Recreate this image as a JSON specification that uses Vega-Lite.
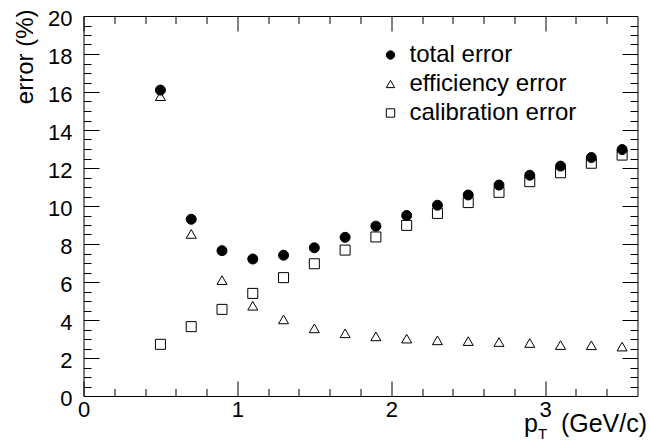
{
  "$schema": "https://vega.github.io/schema/vega-lite/v6.json",
  "width": 554,
  "height": 380,
  "autosize": "none",
  "padding": {"left": 83.5, "top": 16, "right": 12.5, "bottom": 48},
  "background": "white",
  "config": {
    "font": "Liberation Sans",
    "view": {"stroke": "black", "strokeWidth": 1},
    "axis": {"grid": false, "domain": false, "tickColor": "black", "tickWidth": 1, "labelColor": "black", "titleColor": "black", "labelOverlap": false, "labelFlush": false, "labelBound": false, "titleFontWeight": "normal"}
  },
  "data": {
    "values": [
      {"pt": 0.5, "series": "total error", "err": 16.1},
      {"pt": 0.7, "series": "total error", "err": 9.3},
      {"pt": 0.9, "series": "total error", "err": 7.65},
      {"pt": 1.1, "series": "total error", "err": 7.21},
      {"pt": 1.3, "series": "total error", "err": 7.41},
      {"pt": 1.5, "series": "total error", "err": 7.8},
      {"pt": 1.7, "series": "total error", "err": 8.35},
      {"pt": 1.9, "series": "total error", "err": 8.94},
      {"pt": 2.1, "series": "total error", "err": 9.5},
      {"pt": 2.3, "series": "total error", "err": 10.04},
      {"pt": 2.5, "series": "total error", "err": 10.58},
      {"pt": 2.7, "series": "total error", "err": 11.1},
      {"pt": 2.9, "series": "total error", "err": 11.62},
      {"pt": 3.1, "series": "total error", "err": 12.1},
      {"pt": 3.3, "series": "total error", "err": 12.55},
      {"pt": 3.5, "series": "total error", "err": 12.97},
      {"pt": 0.5, "series": "efficiency error", "err": 15.78},
      {"pt": 0.7, "series": "efficiency error", "err": 8.53},
      {"pt": 0.9, "series": "efficiency error", "err": 6.1},
      {"pt": 1.1, "series": "efficiency error", "err": 4.75},
      {"pt": 1.3, "series": "efficiency error", "err": 4.03},
      {"pt": 1.5, "series": "efficiency error", "err": 3.56},
      {"pt": 1.7, "series": "efficiency error", "err": 3.3},
      {"pt": 1.9, "series": "efficiency error", "err": 3.14},
      {"pt": 2.1, "series": "efficiency error", "err": 3.02},
      {"pt": 2.3, "series": "efficiency error", "err": 2.93},
      {"pt": 2.5, "series": "efficiency error", "err": 2.89},
      {"pt": 2.7, "series": "efficiency error", "err": 2.84},
      {"pt": 2.9, "series": "efficiency error", "err": 2.79},
      {"pt": 3.1, "series": "efficiency error", "err": 2.68},
      {"pt": 3.3, "series": "efficiency error", "err": 2.67},
      {"pt": 3.5, "series": "efficiency error", "err": 2.6},
      {"pt": 0.5, "series": "calibration error", "err": 2.72},
      {"pt": 0.7, "series": "calibration error", "err": 3.65},
      {"pt": 0.9, "series": "calibration error", "err": 4.56},
      {"pt": 1.1, "series": "calibration error", "err": 5.4},
      {"pt": 1.3, "series": "calibration error", "err": 6.23},
      {"pt": 1.5, "series": "calibration error", "err": 6.96},
      {"pt": 1.7, "series": "calibration error", "err": 7.68},
      {"pt": 1.9, "series": "calibration error", "err": 8.37},
      {"pt": 2.1, "series": "calibration error", "err": 8.98},
      {"pt": 2.3, "series": "calibration error", "err": 9.61},
      {"pt": 2.5, "series": "calibration error", "err": 10.18},
      {"pt": 2.7, "series": "calibration error", "err": 10.72},
      {"pt": 2.9, "series": "calibration error", "err": 11.28},
      {"pt": 3.1, "series": "calibration error", "err": 11.75},
      {"pt": 3.3, "series": "calibration error", "err": 12.25},
      {"pt": 3.5, "series": "calibration error", "err": 12.68}
    ]
  },
  "layer": [
    {
      "mark": {"type": "point", "filled": true, "strokeWidth": 1, "opacity": 1, "size": 100},
      "encoding": {
        "x": {"field": "pt", "type": "quantitative", "scale": {"domain": [0, 3.6], "nice": false, "zero": false},
          "axis": {"orient": "bottom", "title": "(GeV/c)", "titleFontSize": 25, "titleX": 563, "titleY": 35.5, "titleAlign": "right", "titleBaseline": "alphabetic", "titleAnchor": "end",
            "labelFontSize": 22, "labelPadding": 18, "format": "d",
            "values": [0, 1, 2, 3], "tickSize": -15}},
        "y": {"field": "err", "type": "quantitative", "scale": {"domain": [0, 20], "nice": false, "zero": false},
          "axis": {"orient": "left", "title": "error (%)", "titleFontSize": 24, "titleX": -51.5, "titleY": -7, "titleAngle": -90, "titleAlign": "right", "titleBaseline": "alphabetic", "titleAnchor": "end",
            "labelFontSize": 22, "labelPadding": 27, "labelOffset": 2.5, "format": "d",
            "values": [0, 2, 4, 6, 8, 10, 12, 14, 16, 18, 20], "tickSize": -15.5}},
        "shape": {"field": "series", "type": "nominal",
          "scale": {"domain": ["total error", "efficiency error", "calibration error"], "range": ["circle", "triangle-up", "square"]},
          "legend": {"orient": "none", "legendX": 295, "legendY": 27, "title": null, "labelFontSize": 24, "labelColor": "black", "labelLimit": 400, "symbolSize": 70, "symbolStrokeWidth": 1, "labelOffset": 7, "rowPadding": 5, "padding": 0}},
        "fill": {"field": "series", "type": "nominal",
          "scale": {"domain": ["total error", "efficiency error", "calibration error"], "range": ["black", "transparent", "transparent"]},
          "legend": {"orient": "none", "legendX": 295, "legendY": 27, "title": null, "labelFontSize": 24, "labelColor": "black", "labelLimit": 400, "symbolSize": 70, "symbolStrokeWidth": 1, "labelOffset": 7, "rowPadding": 5, "padding": 0}},
        "stroke": {"field": "series", "type": "nominal",
          "scale": {"domain": ["total error", "efficiency error", "calibration error"], "range": ["black", "black", "black"]},
          "legend": {"orient": "none", "legendX": 295, "legendY": 27, "title": null, "labelFontSize": 24, "labelColor": "black", "labelLimit": 400, "symbolSize": 70, "symbolStrokeWidth": 1, "labelOffset": 7, "rowPadding": 5, "padding": 0}}
      }
    },
    {
      "mark": {"type": "point", "opacity": 0},
      "encoding": {
        "x": {"field": "pt", "type": "quantitative",
          "axis": {"orient": "top", "title": null, "labels": false, "values": [0, 1, 2, 3], "tickSize": -15}},
        "y": {"field": "err", "type": "quantitative",
          "axis": {"orient": "right", "title": null, "labels": false, "values": [0, 2, 4, 6, 8, 10, 12, 14, 16, 18, 20], "tickSize": -15.5}}
      }
    },
    {
      "mark": {"type": "point", "opacity": 0},
      "encoding": {
        "x": {"field": "pt", "type": "quantitative",
          "axis": {"orient": "bottom", "title": "p", "titleFontSize": 25, "titleX": 440, "titleY": 35.5, "titleAlign": "left", "titleBaseline": "alphabetic", "titleAnchor": "start", "labels": false,
            "values": [0.2, 0.4, 0.6, 0.8, 1.2, 1.4, 1.6, 1.8, 2.2, 2.4, 2.6, 2.8, 3.2, 3.4], "tickSize": -7.5}},
        "y": {"field": "err", "type": "quantitative",
          "axis": {"orient": "left", "title": null, "labels": false,
            "values": [0.5, 1, 1.5, 2.5, 3, 3.5, 4.5, 5, 5.5, 6.5, 7, 7.5, 8.5, 9, 9.5, 10.5, 11, 11.5, 12.5, 13, 13.5, 14.5, 15, 15.5, 16.5, 17, 17.5, 18.5, 19, 19.5], "tickSize": -7.5}}
      }
    },
    {
      "mark": {"type": "point", "opacity": 0},
      "encoding": {
        "x": {"field": "pt", "type": "quantitative",
          "axis": {"orient": "top", "title": null, "labels": false,
            "values": [0.2, 0.4, 0.6, 0.8, 1.2, 1.4, 1.6, 1.8, 2.2, 2.4, 2.6, 2.8, 3.2, 3.4], "tickSize": -7.5}},
        "y": {"field": "err", "type": "quantitative",
          "axis": {"orient": "right", "title": null, "labels": false,
            "values": [0.5, 1, 1.5, 2.5, 3, 3.5, 4.5, 5, 5.5, 6.5, 7, 7.5, 8.5, 9, 9.5, 10.5, 11, 11.5, 12.5, 13, 13.5, 14.5, 15, 15.5, 16.5, 17, 17.5, 18.5, 19, 19.5], "tickSize": -7.5}}
      }
    },
    {
      "mark": {"type": "point", "opacity": 0},
      "encoding": {
        "x": {"field": "pt", "type": "quantitative",
          "axis": {"orient": "bottom", "title": "T", "titleFontSize": 15, "titleX": 454, "titleY": 42, "titleAlign": "left", "titleBaseline": "alphabetic", "titleAnchor": "start", "labels": false, "ticks": false}},
        "y": {"field": "err", "type": "quantitative", "axis": null}
      }
    }
  ],
  "resolve": {"axis": {"x": "independent", "y": "independent"}}
}
